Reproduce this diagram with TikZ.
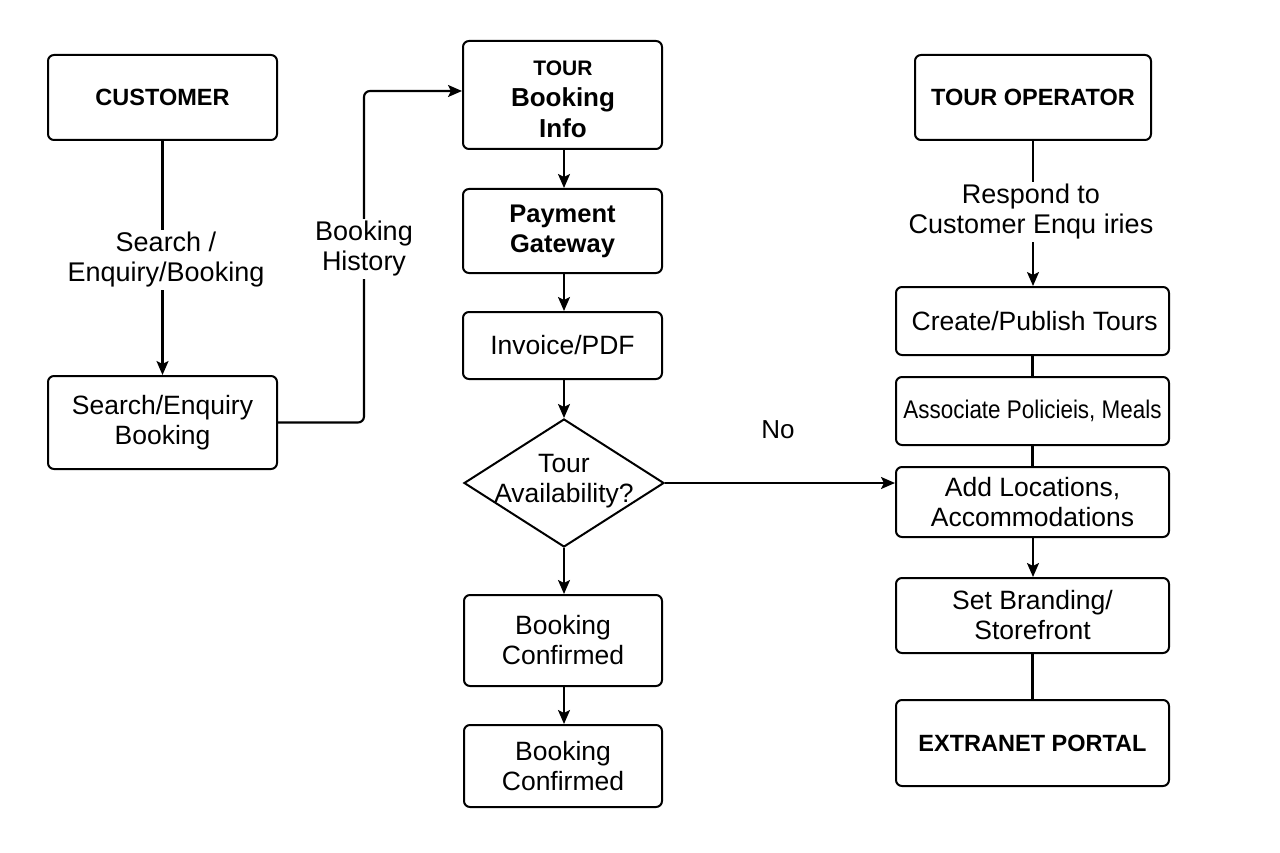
\documentclass[tikz,border=0pt]{standalone}
\usepackage{fontspec}
\usepackage{graphicx}
\setmainfont{Liberation Sans}
\usetikzlibrary{shapes.geometric,arrows.meta}
\newcommand\fsz[2]{\fontsize{#1}{#2}\selectfont}
\begin{document}
\begin{tikzpicture}[x=1pt,y=-1pt,
  box/.style={draw,line width=2pt,rounded corners=6pt,align=center,inner sep=0pt},
  txt/.style={font=\fsz{26.5}{30}},
  btxt/.style={font=\bfseries\fsz{23.5}{28}},
  lbl/.style={fill=white,align=center,inner sep=2pt,font=\fsz{27}{30}},
  con/.style={line width=2.1pt},
  arr/.style={con,-{Stealth[length=14pt,width=12pt,inset=3pt]}}]
\useasboundingbox[fill=white] (0,0) rectangle (1280,853);

% left column
\node[box,btxt,minimum width=229,minimum height=85] (cust) at (162.5,97.5) {CUSTOMER};
\node[box,txt,minimum width=229,minimum height=93] (seb) at (162.5,422.5) {Search/Enquiry\\Booking};

% middle column
\node[box,minimum width=199,minimum height=108] (tour) at (562.5,95) {};
\node[align=center,inner sep=0pt,font=\bfseries\fsz{26}{31}] (tourt) at (563,99) {{\fsz{21}{24}TOUR}\\Booking\\Info};
\node[box,minimum width=199,minimum height=84,font=\bfseries\fsz{25.5}{30}] (pay) at (562.5,231) {Payment\\Gateway};
\node[box,txt,minimum width=199,minimum height=67] (inv) at (562.5,345.5) {Invoice/PDF};
\node[draw,diamond,line width=2pt,minimum width=200,minimum height=128,inner sep=0pt] (dia) at (564,483) {};
\node[txt,align=center,inner sep=0pt] (diat) at (564,481) {Tour\\Availability?};
\node[box,txt,minimum width=198,minimum height=91] (bc1) at (563,640.5) {Booking\\Confirmed};
\node[box,txt,minimum width=198,minimum height=82] (bc2) at (563,766) {Booking\\Confirmed};

% right column
\node[box,btxt,minimum width=236,minimum height=85] (op) at (1033,97.5) {TOUR OPERATOR};
\node[box,txt,minimum width=273,minimum height=68] (cre) at (1032.5,321) {\,Create/Publish Tours};
\node[box,minimum width=273,minimum height=68,font=\fsz{25.5}{27}] (ass) at (1032.5,411) {\scalebox{0.88}[1]{Associate Policieis, Meals}};
\node[box,txt,minimum width=273,minimum height=70] (add) at (1032.5,502) {Add Locations,\\Accommodations};
\node[box,txt,minimum width=273,minimum height=75] (set) at (1032.5,615.5) {Set Branding/\\Storefront};
\node[box,btxt,minimum width=273,minimum height=86] (ext) at (1032.5,743) {EXTRANET PORTAL};

% connectors left
\draw[arr] (cust) -- (seb);
\node[lbl] (l1) at (166,260) {Search /\\Enquiry/Booking};
\coordinate (bh) at (364,91);
\draw[arr,rounded corners=6pt] (seb.east) -| (bh) -- (tour.west |- bh);
\node[lbl] (l2) at (364,249) {Booking\\History};

% connectors middle
\draw[arr] (tour.south -| 564,0) -- (pay.north -| 564,0);
\draw[arr] (pay.south -| 564,0) -- (inv.north -| 564,0);
\draw[arr] (inv.south -| 564,0) -- (dia.north);
\draw[arr] (dia.south) -- (bc1.north -| 564,0);
\draw[arr] (bc1.south -| 564,0) -- (bc2.north -| 564,0);
\draw[arr] (dia.east) -- (dia.east -| add.west);
\node[font=\fsz{26}{30},inner sep=0pt] (no) at (778,430) {No};

% connectors right
\draw[arr] (op.south -| 1033,0) -- (cre.north -| 1033,0);
\node[lbl] (l3) at (1031,212) {Respond to\\Customer Enqu iries};
\draw[con] (cre) -- (ass);
\draw[con] (ass) -- (add);
\draw[arr] (add.south -| 1033,0) -- (set.north -| 1033,0);
\draw[con] (set) -- (ext);
\end{tikzpicture}
\end{document}
